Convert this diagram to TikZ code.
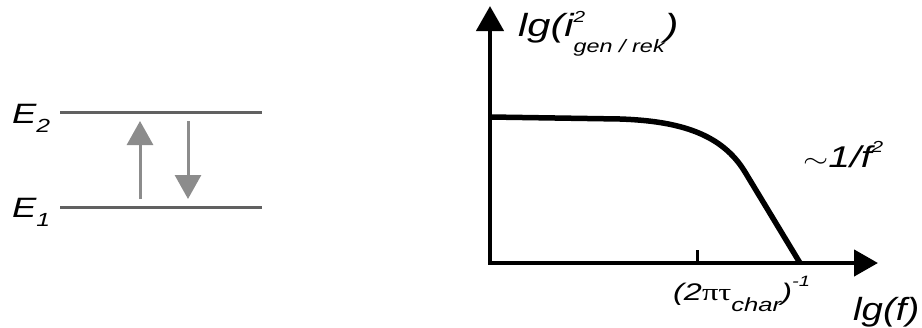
\documentclass[tikz,border=0pt]{standalone}
\usepackage{graphicx}
\usepackage{fontspec}
\setmainfont{Liberation Sans}
\newfontfamily\grk{Liberation Serif}
\newcommand{\wide}[1]{\scalebox{1.3}[1]{#1}}
\newcommand{\fsz}[1]{\fontsize{#1}{#1}\selectfont}
\usetikzlibrary{arrows.meta,positioning}

\begin{document}
\begin{tikzpicture}[x=1pt, y=-1pt, lbl/.style={inner sep=0, anchor=base west, font=\fsz{28}\itshape}, level/.style={line width=3pt, black!62}, trans/.style={line width=3pt, black!45, -{Triangle[length=24pt, width=26pt]}}, axis/.style={line width=4.5pt, line join=miter, {Triangle[length=25pt, width=27pt]}-{Triangle[length=24pt, width=26pt]}}]
\useasboundingbox (0,0) rectangle (922,327);
\coordinate (e2a) at (60,112);
\coordinate (e2b) at (262,112);
\coordinate (e1a) at (60,207);
\coordinate (e1b) at (262,207);
\draw[level] (e2a) -- (e2b);
\draw[level] (e1a) -- (e1b);
\node[lbl] (E2) at (12,123) {\wide{E\raisebox{-9pt}{\fsz{19}2}}};
\node[lbl] (E1) at (12,217) {\wide{E\raisebox{-9pt}{\fsz{19}1}}};
\coordinate (upfrom) at (140,199);
\coordinate (upto) at (140,121);
\coordinate (downfrom) at (188,121);
\coordinate (downto) at (188,199);
\draw[trans] (upfrom) -- (upto);
\draw[trans] (downfrom) -- (downto);
\coordinate (O) at (490,263);
\coordinate (ytip) at (490,6);
\coordinate (xtip) at (878,263);
\coordinate (tick) at (697,263);
\draw[axis] (ytip) -- (O) -- (xtip);
\draw[line width=3pt] (tick) -- ++(0,-13);
\draw[line width=5.5pt] (490,117) -- (620,119) .. controls (680,121) and (722,134) .. (745,172) -- (800,263);
\node[lbl, font=\fsz{32}\itshape] (ylabel) at (518,36) {\wide{lg(i\rlap{\raisebox{14pt}{\fsz{16}2}}\raisebox{-16pt}{\fsz{18}gen / rek})}};
\node[lbl, font=\fsz{24}\itshape] (ticklabel) at (673,300) {\scalebox{1.35}[1]{(2{\grk\upshape πτ}\raisebox{-11pt}{\fsz{19}char})\raisebox{14pt}{\fsz{15}-1}}};
\node[lbl, font=\fsz{32}\itshape] (xlabel) at (853,320) {\scalebox{1.2}[1]{lg(f)}};
\node[lbl, font=\fsz{30}\itshape] (slope) at (803,167) {\wide{$\sim$1/f\raisebox{15pt}{\fsz{16}2}}};
\end{tikzpicture}
\end{document}
